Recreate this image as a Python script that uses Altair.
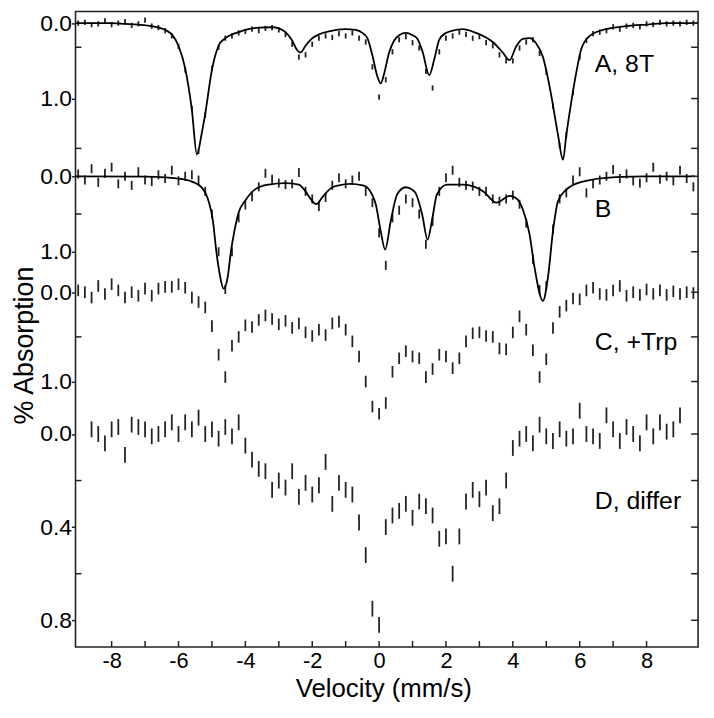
import altair as alt
import pandas as pd

FONT = "Liberation Sans"

# Velocity channels (mm/s)
VEL = [-9.0, -8.8, -8.6, -8.4, -8.2, -8.0, -7.8, -7.6, -7.4, -7.2, -7.0, -6.8, -6.6, -6.4, -6.2,
       -6.0, -5.8, -5.6, -5.4, -5.2, -5.0, -4.8, -4.6, -4.4, -4.2, -4.0, -3.8, -3.6, -3.4, -3.2,
       -3.0, -2.8, -2.6, -2.4, -2.2, -2.0, -1.8, -1.6, -1.4, -1.2, -1.0, -0.8, -0.6, -0.4, -0.2,
       0.0, 0.2, 0.4, 0.6, 0.8, 1.0, 1.2, 1.4, 1.6, 1.8, 2.0, 2.2, 2.4, 2.6, 2.8,
       3.0, 3.2, 3.4, 3.6, 3.8, 4.0, 4.2, 4.4, 4.6, 4.8, 5.0, 5.2, 5.4, 5.6, 5.8,
       6.0, 6.2, 6.4, 6.6, 6.8, 7.0, 7.2, 7.4, 7.6, 7.8, 8.0, 8.2, 8.4, 8.6, 8.8,
       9.0, 9.2, 9.4]
VEL_D = VEL[2:91]

# % absorption, spectrum A (8 T)
A_DATA = [0.0, -0.01, 0.02, 0.01, -0.03, 0.02, 0.0, -0.02, 0.03, 0.01, -0.04, 0.04, 0.06, 0.1, 0.17,
          0.31, 0.62, 1.13, 1.7, 1.22, 0.6, 0.32, 0.2, 0.17, 0.13, 0.11, 0.08, 0.1, 0.07, 0.06,
          0.09, 0.15, 0.28, 0.45, 0.42, 0.28, 0.2, 0.17, 0.19, 0.14, 0.17, 0.13, 0.2, 0.25, 0.58,
          0.98, 0.75, 0.38, 0.22, 0.18, 0.26, 0.33, 0.64, 0.86, 0.38, 0.2, 0.17, 0.12, 0.15, 0.2,
          0.18, 0.26, 0.3, 0.42, 0.5, 0.5, 0.33, 0.25, 0.22, 0.4, 0.65, 1.1, 1.62, 1.48, 0.92,
          0.45, 0.23, 0.14, 0.12, 0.1, 0.05, 0.08, 0.04, 0.03, 0.05, 0.01, 0.02, -0.01, 0.01, 0.0,
          0.01, -0.01, 0.0]
# spectrum B
B_DATA = [-0.03, 0.05, -0.1, 0.08, -0.04, -0.12, 0.1, 0.0, 0.12, -0.06, 0.05, 0.07, -0.02, 0.03, -0.08,
          0.06, 0.0, -0.02, 0.05, 0.2, 0.5, 1.0, 1.5, 1.0, 0.55, 0.38, 0.27, 0.14, -0.04, 0.04,
          0.09, 0.11, 0.1, -0.05, 0.2, 0.3, 0.4, 0.28, 0.12, 0.02, 0.1, 0.05, 0.0, 0.2, 0.35,
          0.75, 1.18, 0.55, 0.45, 0.3, 0.35, 0.5, 0.9, 0.6, 0.2, 0.02, -0.08, 0.08, 0.12, 0.13,
          0.2, 0.2, 0.3, 0.33, 0.3, 0.25, 0.37, 0.62, 1.1, 1.5, 1.45, 0.7, 0.3, 0.22, 0.05,
          -0.06, 0.22, 0.1, 0.05, 0.0, -0.09, 0.03, -0.03, 0.06, 0.09, 0.02, -0.12, 0.04, 0.0, 0.06,
          -0.08, 0.03, 0.14]
# spectrum C (+Trp)
C_DATA = [-0.02, 0.0, 0.06, -0.07, 0.02, -0.09, -0.02, 0.06, 0.0, 0.04, -0.04, 0.04, -0.04, -0.06, -0.06,
          -0.09, -0.05, 0.06, 0.11, 0.17, 0.38, 0.7, 0.95, 0.6, 0.5, 0.37, 0.39, 0.31, 0.26, 0.3,
          0.36, 0.32, 0.4, 0.35, 0.45, 0.49, 0.42, 0.48, 0.35, 0.33, 0.42, 0.55, 0.72, 1.0, 1.28,
          1.36, 1.24, 0.89, 0.74, 0.66, 0.72, 0.74, 0.95, 0.86, 0.7, 0.72, 0.85, 0.74, 0.55, 0.46,
          0.45, 0.49, 0.5, 0.63, 0.64, 0.45, 0.27, 0.42, 0.65, 0.95, 0.75, 0.4, 0.22, 0.15, 0.07,
          0.08, -0.02, -0.05, 0.02, 0.03, -0.02, -0.07, 0.04, 0.0, 0.03, -0.03, 0.02, -0.02, 0.03, -0.01,
          0.02, 0.0, 0.01]
# spectrum D (difference)
D_DATA = [-0.02, 0.0, 0.04, -0.02, -0.03, 0.09, -0.04, -0.03, -0.02, 0.01, 0.0, -0.02, -0.05,
          0.0, -0.05, -0.02, -0.07, 0.0, -0.02, 0.02, -0.03, 0.01, -0.05, 0.05, 0.11, 0.15, 0.16,
          0.24, 0.2, 0.23, 0.16, 0.27, 0.21, 0.26, 0.22, 0.12, 0.3, 0.21, 0.24, 0.26, 0.38, 0.52,
          0.75, 0.82, 0.4, 0.35, 0.33, 0.3, 0.36, 0.29, 0.31, 0.35, 0.45, 0.44, 0.6, 0.44, 0.29,
          0.24, 0.28, 0.23, 0.34, 0.31, 0.2, 0.06, 0.02, 0.0, 0.04, -0.04, 0.01, 0.03, -0.02, 0.02,
          0.01, -0.1, 0.0, 0.01, 0.03, -0.08, -0.02, 0.03, -0.03, 0.0, 0.04, -0.05, 0.01, -0.05,
          -0.01, -0.02, -0.08]

# fitted curves for A and B
FIT_A_VEL = [-9.08, -8.0, -7.6, -7.2, -6.8, -6.4, -6.2, -6.0, -5.8, -5.6, -5.45, -5.3, -5.2, -5.0, -4.8,
             -4.6, -4.4, -4.2, -4.0, -3.6, -3.2, -3.0, -2.8, -2.6, -2.45, -2.35, -2.2, -2.0, -1.8, -1.5,
             -1.0, -0.7, -0.5, -0.35, -0.2, -0.05, 0.05, 0.15, 0.3, 0.45, 0.6, 0.8, 1.0, 1.15, 1.3,
             1.5, 1.65, 1.8, 2.0, 2.2, 2.5, 2.9, 3.2, 3.4, 3.7, 3.9, 4.1, 4.3, 4.5, 4.7,
             4.9, 5.15, 5.35, 5.5, 5.6, 5.75, 5.9, 6.05, 6.3, 6.7, 7.2, 7.6, 8.0, 8.6, 9.54]
FIT_A = [0.0, 0.0, 0.01, 0.02, 0.04, 0.09, 0.15, 0.3, 0.6, 1.15, 1.74, 1.45, 1.2, 0.62, 0.3,
         0.2, 0.15, 0.12, 0.09, 0.06, 0.055, 0.07, 0.12, 0.23, 0.36, 0.39, 0.3, 0.2, 0.15, 0.11,
         0.08, 0.09, 0.13, 0.2, 0.43, 0.71, 0.8, 0.67, 0.39, 0.23, 0.16, 0.13, 0.16, 0.21, 0.38,
         0.69, 0.48, 0.22, 0.13, 0.1, 0.08, 0.13, 0.19, 0.25, 0.39, 0.49, 0.31, 0.21, 0.2, 0.27,
         0.45, 0.96, 1.48, 1.81, 1.48, 1.04, 0.65, 0.34, 0.17, 0.09, 0.05, 0.03, 0.02, 0.0, 0.0]
FIT_B_VEL = [-9.08, -7.0, -6.4, -6.0, -5.6, -5.3, -5.1, -4.97, -4.87, -4.77, -4.65, -4.53, -4.43, -4.33, -4.2,
             -4.0, -3.7, -3.3, -2.8, -2.4, -2.2, -2.05, -1.88, -1.7, -1.45, -1.2, -0.85, -0.5, -0.35, -0.2,
             -0.1, 0.05, 0.18, 0.35, 0.54, 0.79, 1.0, 1.09, 1.29, 1.45, 1.58, 1.73, 2.03, 2.52, 3.12,
             3.51, 3.91, 4.1, 4.3, 4.5, 4.65, 4.9, 5.05, 5.2, 5.35, 5.59, 6.09, 7.08, 8.0, 9.45]
FIT_B = [0.0, 0.005, 0.015, 0.03, 0.07, 0.15, 0.33, 0.59, 0.99, 1.29, 1.49, 1.34, 0.99, 0.73, 0.48,
         0.32, 0.17, 0.11, 0.09, 0.11, 0.2, 0.3, 0.37, 0.28, 0.16, 0.12, 0.1, 0.12, 0.15, 0.25,
         0.37, 0.73, 0.97, 0.59, 0.24, 0.145, 0.18, 0.22, 0.51, 0.84, 0.59, 0.24, 0.11, 0.11, 0.2,
         0.35, 0.26, 0.29, 0.44, 0.77, 1.21, 1.65, 1.34, 0.73, 0.33, 0.18, 0.07, 0.01, 0.0, 0.0]

# stacking: offset and gain of each spectrum on the shared axis (in units of spectrum A)
OFFSET = {"A": 0.0, "B": 2.03, "C": 3.566, "D": 5.445}
GAIN = {"A": 1.0, "B": 1.0, "C": 1.184, "D": 3.086}
ERR = {"A": 0.035, "B": 0.06, "C": 0.065, "D": 0.034}

MAJOR_TICKS = {"A": [0.0, 1.0], "B": [0.0, 1.0], "C": [0.0, 1.0], "D": [0.0, 0.4, 0.8]}
MINOR_TICKS = {"A": [0.32, 1.66], "B": [0.5], "C": [0.5], "D": [0.2, 0.6]}
XTICKS = [-8, -7, -6, -5, -4, -3, -2, -1, 0, 1, 2, 3, 4, 5, 6, 7, 8]
XLABELS = [-8, -6, -4, -2, 0, 2, 4, 6, 8]

LABELS = ["A, 8T", "B", "C, +Trp", "D, differ"]
LABEL_VEL = [6.45, 6.45, 6.45, 6.45]
LABEL_POS = [0.65, 2.57, 4.33, 6.44]


def stack(s, v):
    return OFFSET[s] + v * GAIN[s]


rows = []
for s, vel, vals in [("A", VEL, A_DATA), ("B", VEL, B_DATA), ("C", VEL, C_DATA), ("D", VEL_D, D_DATA)]:
    for x, v in zip(vel, vals):
        rows.append({"spec": s, "vel": x, "ys": stack(s, v + ERR[s]), "ys2": stack(s, v - ERR[s])})
err_df = pd.DataFrame(rows)

fit_rows = []
for s, vel, vals in [("A", FIT_A_VEL, FIT_A), ("B", FIT_B_VEL, FIT_B)]:
    for x, v in zip(vel, vals):
        fit_rows.append({"spec": s, "vel": x, "ys": stack(s, v)})
fit_df = pd.DataFrame(fit_rows)

major_pos = [stack(s, v) for s in "ABCD" for v in MAJOR_TICKS[s]]
minor_pos = [stack(s, v) for s in "ABCD" for v in MINOR_TICKS[s]]

label_expr = (
    f"datum.value < 1.5 ? format(abs(datum.value - {OFFSET['A']}) / {GAIN['A']}, '.1f') : "
    f"datum.value < 3.3 ? format(abs(datum.value - {OFFSET['B']}) / {GAIN['B']}, '.1f') : "
    f"datum.value < 5.1 ? format(abs(datum.value - {OFFSET['C']}) / {GAIN['C']}, '.1f') : "
    f"format(abs(datum.value - {OFFSET['D']}) / {GAIN['D']}, '.1f')"
)

W, H = 627, 640

X_ENC = alt.X(
    "vel:Q",
    scale=alt.Scale(domain=[-9.08, 9.54], nice=False, zero=False),
    axis=alt.Axis(values=XLABELS, ticks=False, domain=False, grid=False,
                  labelExpr="'' + datum.value", labelFontSize=22, labelPadding=4,
                  title="Velocity (mm/s)", titleFontSize=26, titleX=310, titleY=50,
                  titleAlign="center", titleBaseline="alphabetic"),
)
Y_ENC = alt.Y(
    "ys:Q",
    scale=alt.Scale(domain=[-0.154, 8.267], reverse=True, nice=False, zero=False),
    axis=alt.Axis(values=major_pos, labelExpr=label_expr, tickSize=4, labelPadding=0,
                  labelFontSize=23, domain=False, grid=False,
                  title="% Absorption", titleFontSize=27, titleAngle=270,
                  titleX=-43.5, titleY=336, titleAlign="center", titleBaseline="alphabetic"),
)

bars = alt.Chart(err_df).mark_rule(color="#222", strokeWidth=1.8).encode(
    x=X_ENC, y=Y_ENC, y2=alt.Y2("ys2:Q"), detail="spec:N"
)
fits = alt.Chart(fit_df).mark_line(color="black", strokeWidth=1.8, interpolate="monotone").encode(
    x=X_ENC, y=Y_ENC, detail="spec:N"
)

left_minor = alt.Chart(pd.DataFrame({"ys": minor_pos})).mark_rule(color="#222", strokeWidth=1.5).encode(
    y=Y_ENC, x=alt.value(0), x2=alt.value(6)
)
right_ticks = alt.Chart(pd.DataFrame({"ys": major_pos + minor_pos})).mark_rule(color="#222", strokeWidth=1.5).encode(
    y=Y_ENC, x=alt.value(W - 7), x2=alt.value(W)
)
bottom_ticks = alt.Chart(pd.DataFrame({"vel": XTICKS})).mark_rule(color="#222", strokeWidth=1.5).encode(
    x=X_ENC, y=alt.value(H), y2=alt.value(H - 6)
)

labels = alt.Chart(pd.DataFrame({"label": LABELS, "vel": LABEL_VEL, "ys": LABEL_POS})).mark_text(
    align="left", baseline="alphabetic", fontSize=25, font=FONT, color="black"
).encode(x=X_ENC, y=Y_ENC, text="label:N")

chart = (
    alt.layer(bars, fits, left_minor, right_ticks, bottom_ticks, labels)
    .properties(width=W, height=H, padding={"left": 68, "top": 1, "right": 8, "bottom": 60},
                autosize=alt.AutoSizeParams(type="none"), background="white")
    .configure_view(stroke="#222", strokeWidth=1.6)
    .configure_axis(labelFont=FONT, titleFont=FONT, labelColor="black", titleColor="black",
                    tickColor="#222", tickWidth=1.5, titleFontWeight="normal")
)

chart.save("out.html", embed_options={"renderer": "svg", "actions": False})
